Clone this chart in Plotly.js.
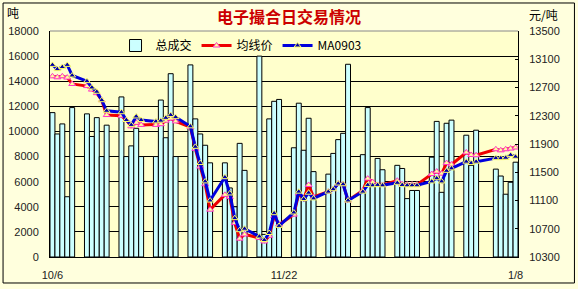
<!DOCTYPE html>
<html><head><meta charset="utf-8">
<script src="https://cdn.plot.ly/plotly-3.0.1.min.js"></script>
<style>html,body{margin:0;padding:0;background:#FFFFDD;}#chart{width:578px;height:289px;}</style>
</head><body><div id="chart"></div>
<script>
const dates = [
 '2008-10-06','2008-10-07','2008-10-08','2008-10-09','2008-10-10','2008-10-13','2008-10-14','2008-10-15','2008-10-16','2008-10-17',
 '2008-10-20','2008-10-21','2008-10-22','2008-10-23','2008-10-24','2008-10-27','2008-10-28','2008-10-29','2008-10-30','2008-10-31',
 '2008-11-03','2008-11-04','2008-11-05','2008-11-06','2008-11-07','2008-11-10','2008-11-11','2008-11-12','2008-11-13','2008-11-14',
 '2008-11-17','2008-11-18','2008-11-19','2008-11-20','2008-11-21','2008-11-24','2008-11-25','2008-11-26','2008-11-27','2008-11-28',
 '2008-12-01','2008-12-02','2008-12-03','2008-12-04','2008-12-05','2008-12-08','2008-12-09','2008-12-10','2008-12-11','2008-12-12',
 '2008-12-15','2008-12-16','2008-12-17','2008-12-18','2008-12-19','2008-12-22','2008-12-23','2008-12-24','2008-12-25','2008-12-26',
 '2008-12-29','2008-12-30','2008-12-31','2009-01-04','2009-01-05','2009-01-06','2009-01-07','2009-01-08'];
const volume = [
 11500,9800,10600,4800,11900,11400,9600,11100,8000,10500,
 12750,8000,8850,10250,8000,8000,12500,9500,14600,8000,
 15300,11000,9800,8900,7500,7500,5500,4000,9050,6900,
 16000,1800,11000,12400,12550,8700,12250,8500,11050,6800,
 6600,8250,9350,9850,15350,8150,11900,5700,7850,6950,
 7300,7050,4650,5300,5300,7950,10800,5150,10650,10900,
 9700,7300,10100,7000,6450,5000,5950,7550];
const avgPrice = [
 12858,12844,12858,12840,12750,12720,12670,12620,12520,12310,
 12300,12240,12150,12200,12170,12170,12180,12230,12260,12220,
 12140,11830,11580,11330,10970,11180,11150,10780,10560,10620,
 10570,10520,10600,10880,10760,10900,11200,11120,11320,11150,
 11225,11260,11340,11330,11100,11240,11410,11360,11320,11320,
 11380,11330,11325,11325,11325,11475,11510,11480,11630,11610,
 11780,11745,11740,11825,11810,11825,11835,11850];
const ma0903 = [
 13020,12960,12990,13020,12870,12790,12700,12640,12520,12370,
 12350,12240,12170,12290,12240,12220,12230,12270,12310,12280,
 12150,11860,11630,11370,11100,11430,11200,10850,10680,10700,
 10590,10540,10640,10920,10740,10930,11225,11120,11210,11130,
 11225,11260,11340,11330,11100,11225,11320,11315,11320,11315,
 11350,11320,11315,11315,11315,11370,11415,11370,11520,11555,
 11650,11630,11650,11700,11700,11705,11745,11720];
const leftTicks = [0,2000,4000,6000,8000,10000,12000,14000,16000,18000];
const rightTicks = [10300,10700,11100,11500,11900,12300,12700,13100,13500];
const xTickVals = ['2008-10-06','2008-11-22','2009-01-08'];
const xTickText = ['10/6','11/22','1/8'];

const FONT = '"Noto Sans CJK SC", "Liberation Sans", sans-serif';
const TICKFONT = {family:'"Liberation Sans", sans-serif', size:11, color:'#222'};
const traces = [
 {type:'bar', name:'总成交', x:dates, y:volume, yaxis:'y',
  marker:{color:'#CCFFFF', line:{color:'#000000', width:1}}},
 {type:'scatter', mode:'lines+markers', name:'均线价', x:dates, y:avgPrice, yaxis:'y2',
  line:{color:'#EE0000', width:3},
  marker:{symbol:'triangle-up', size:6, color:'#FFFF99', line:{color:'#FF33CC', width:1}}},
 {type:'scatter', mode:'lines+markers', name:'MA0903', x:dates, y:ma0903, yaxis:'y2',
  line:{color:'#0000DD', width:3},
  marker:{symbol:'triangle-up', size:6, color:'#0000AA', line:{color:'#FFFF66', width:1}}}
];
const layout = {
 width:578, height:289,
 margin:{l:50, r:60, t:31, b:32, pad:0},
 paper_bgcolor:'#FFFFDD', plot_bgcolor:'#FFFFCC',
 font:{family:FONT, size:11, color:'#222'},
 showlegend:true, bargap:0,
 legend:{orientation:'h', x:0.14, xanchor:'left', y:1.0, yanchor:'top',
   bgcolor:'rgba(0,0,0,0)', font:{family:FONT, size:12, color:'#000'},
   itemwidth:30, tracegroupgap:0},
 title:{text:'<b>电子撮合日交易情况</b>', x:0.5, xanchor:'center', y:0.94, yanchor:'middle',
   font:{family:FONT, size:16, color:'#CC0000'}},
 xaxis:{type:'date', range:['2008-10-05 12:00','2009-01-08 12:00'],
   tickmode:'array', tickvals:xTickVals, ticktext:xTickText,
   showgrid:false, zeroline:false, showline:true, linecolor:'#000', linewidth:1,
   ticks:'', ticklabelstandoff:8, tickfont:TICKFONT},
 yaxis:{range:[0,18000], tickmode:'array', tickvals:leftTicks, ticktext:leftTicks.map(String),
   showgrid:true, gridcolor:'#000', gridwidth:1, zeroline:false,
   showline:true, linecolor:'#000', linewidth:1, ticks:'', ticklabelstandoff:8,
   tickfont:TICKFONT},
 yaxis2:{overlaying:'y', side:'right', range:[10300,13500], tickmode:'array', tickvals:rightTicks,
   ticktext:rightTicks.map(String),
   showgrid:false, zeroline:false, showline:true, linecolor:'#000', linewidth:1,
   ticks:'inside', ticklen:3, tickcolor:'#000', ticklabelstandoff:8,
   tickfont:TICKFONT},
 shapes:[
  {type:'line', xref:'paper', yref:'paper', x0:0, x1:1, y0:1, y1:1, line:{color:'#888', width:1}},
  {type:'rect', xref:'paper', yref:'paper', x0:-0.1003, x1:1.1206, y0:-0.115, y1:1.1239, line:{color:'#000', width:1}}
 ],
 annotations:[
  {text:'吨', xref:'paper', yref:'paper', x:-0.096, y:1.08, xanchor:'left', yanchor:'middle', showarrow:false,
   font:{family:FONT, size:12, color:'#000'}},
  {text:'元/吨', xref:'paper', yref:'paper', x:1.02, y:1.075, xanchor:'left', yanchor:'middle', showarrow:false,
   font:{family:FONT, size:12, color:'#000'}}
 ]
};
Plotly.newPlot('chart', traces, layout, {displayModeBar:false, staticPlot:true});
</script></body></html>
